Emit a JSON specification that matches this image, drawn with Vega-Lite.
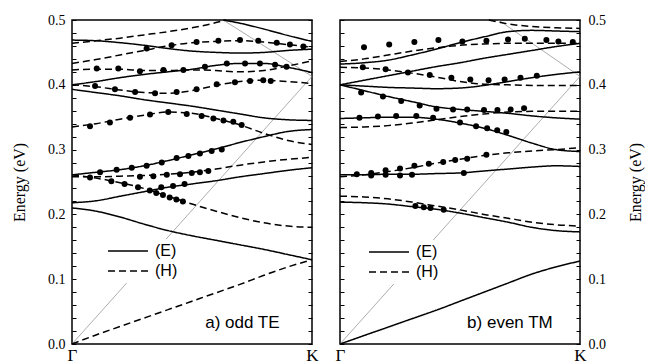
{
  "$schema": "https://vega.github.io/schema/vega-lite/v6.json",
  "background": "white",
  "padding": {"left": 10, "top": 12, "right": 0, "bottom": 0},
  "bounds": "flush",
  "spacing": 28,
  "config": {
    "view": {"stroke": "black", "strokeWidth": 1.5},
    "line": {"strokeCap": "butt"}
  },
  "datasets": {
    "lightA": [
      {"seg": "1", "x": 0, "y": 0}, {"seg": "1", "x": 1, "y": 0.413},
      {"seg": "2", "x": 0.63, "y": 0.5}, {"seg": "2", "x": 1, "y": 0.413}
    ],
    "lightB": [
      {"seg": "1", "x": 0, "y": 0}, {"seg": "1", "x": 1, "y": 0.413},
      {"seg": "2", "x": 0.66, "y": 0.5}, {"seg": "2", "x": 1, "y": 0.413}
    ],
    "labelA": [{"t": "a) odd TE"}],
    "labelB": [{"t": "b) even TM"}],
    "linesA": [
      {"band": "S1", "pol": "(E)", "x": 0, "y": 0.210}, {"band": "S1", "pol": "(E)", "x": 0.1, "y": 0.205}, {"band": "S1", "pol": "(E)", "x": 0.2, "y": 0.196}, {"band": "S1", "pol": "(E)", "x": 0.3, "y": 0.185}, {"band": "S1", "pol": "(E)", "x": 0.4, "y": 0.175}, {"band": "S1", "pol": "(E)", "x": 0.5, "y": 0.167}, {"band": "S1", "pol": "(E)", "x": 0.6, "y": 0.160}, {"band": "S1", "pol": "(E)", "x": 0.7, "y": 0.153}, {"band": "S1", "pol": "(E)", "x": 0.8, "y": 0.146}, {"band": "S1", "pol": "(E)", "x": 0.9, "y": 0.138}, {"band": "S1", "pol": "(E)", "x": 1, "y": 0.130},
      {"band": "S2", "pol": "(E)", "x": 0, "y": 0.218}, {"band": "S2", "pol": "(E)", "x": 0.1, "y": 0.221}, {"band": "S2", "pol": "(E)", "x": 0.2, "y": 0.228}, {"band": "S2", "pol": "(E)", "x": 0.3, "y": 0.235}, {"band": "S2", "pol": "(E)", "x": 0.4, "y": 0.242}, {"band": "S2", "pol": "(E)", "x": 0.5, "y": 0.247}, {"band": "S2", "pol": "(E)", "x": 0.6, "y": 0.252}, {"band": "S2", "pol": "(E)", "x": 0.7, "y": 0.258}, {"band": "S2", "pol": "(E)", "x": 0.8, "y": 0.263}, {"band": "S2", "pol": "(E)", "x": 0.9, "y": 0.268}, {"band": "S2", "pol": "(E)", "x": 1, "y": 0.272},
      {"band": "S3", "pol": "(E)", "x": 0, "y": 0.261}, {"band": "S3", "pol": "(E)", "x": 0.1, "y": 0.265}, {"band": "S3", "pol": "(E)", "x": 0.2, "y": 0.269}, {"band": "S3", "pol": "(E)", "x": 0.3, "y": 0.275}, {"band": "S3", "pol": "(E)", "x": 0.4, "y": 0.283}, {"band": "S3", "pol": "(E)", "x": 0.5, "y": 0.292}, {"band": "S3", "pol": "(E)", "x": 0.6, "y": 0.301}, {"band": "S3", "pol": "(E)", "x": 0.7, "y": 0.311}, {"band": "S3", "pol": "(E)", "x": 0.8, "y": 0.320}, {"band": "S3", "pol": "(E)", "x": 0.9, "y": 0.328}, {"band": "S3", "pol": "(E)", "x": 1, "y": 0.331},
      {"band": "S4", "pol": "(E)", "x": 0, "y": 0.393}, {"band": "S4", "pol": "(E)", "x": 0.1, "y": 0.388}, {"band": "S4", "pol": "(E)", "x": 0.2, "y": 0.383}, {"band": "S4", "pol": "(E)", "x": 0.3, "y": 0.377}, {"band": "S4", "pol": "(E)", "x": 0.4, "y": 0.372}, {"band": "S4", "pol": "(E)", "x": 0.5, "y": 0.367}, {"band": "S4", "pol": "(E)", "x": 0.6, "y": 0.361}, {"band": "S4", "pol": "(E)", "x": 0.7, "y": 0.355}, {"band": "S4", "pol": "(E)", "x": 0.8, "y": 0.349}, {"band": "S4", "pol": "(E)", "x": 0.9, "y": 0.346}, {"band": "S4", "pol": "(E)", "x": 1, "y": 0.345},
      {"band": "S5", "pol": "(E)", "x": 0, "y": 0.400}, {"band": "S5", "pol": "(E)", "x": 0.1, "y": 0.405}, {"band": "S5", "pol": "(E)", "x": 0.2, "y": 0.411}, {"band": "S5", "pol": "(E)", "x": 0.3, "y": 0.416}, {"band": "S5", "pol": "(E)", "x": 0.4, "y": 0.420}, {"band": "S5", "pol": "(E)", "x": 0.5, "y": 0.424}, {"band": "S5", "pol": "(E)", "x": 0.6, "y": 0.430}, {"band": "S5", "pol": "(E)", "x": 0.7, "y": 0.433}, {"band": "S5", "pol": "(E)", "x": 0.8, "y": 0.433}, {"band": "S5", "pol": "(E)", "x": 0.9, "y": 0.427}, {"band": "S5", "pol": "(E)", "x": 1, "y": 0.419},
      {"band": "S6", "pol": "(E)", "x": 0, "y": 0.469}, {"band": "S6", "pol": "(E)", "x": 0.1, "y": 0.468}, {"band": "S6", "pol": "(E)", "x": 0.2, "y": 0.465}, {"band": "S6", "pol": "(E)", "x": 0.3, "y": 0.461}, {"band": "S6", "pol": "(E)", "x": 0.4, "y": 0.456}, {"band": "S6", "pol": "(E)", "x": 0.5, "y": 0.452}, {"band": "S6", "pol": "(E)", "x": 0.6, "y": 0.450}, {"band": "S6", "pol": "(E)", "x": 0.7, "y": 0.449}, {"band": "S6", "pol": "(E)", "x": 0.8, "y": 0.450}, {"band": "S6", "pol": "(E)", "x": 0.9, "y": 0.453}, {"band": "S6", "pol": "(E)", "x": 1, "y": 0.455},
      {"band": "S7", "pol": "(E)", "x": 0.63, "y": 0.5}, {"band": "S7", "pol": "(E)", "x": 0.7, "y": 0.495}, {"band": "S7", "pol": "(E)", "x": 0.8, "y": 0.486}, {"band": "S7", "pol": "(E)", "x": 0.9, "y": 0.476}, {"band": "S7", "pol": "(E)", "x": 1, "y": 0.467},
      {"band": "D1", "pol": "(H)", "x": 0, "y": 0}, {"band": "D1", "pol": "(H)", "x": 0.1, "y": 0.014}, {"band": "D1", "pol": "(H)", "x": 0.2, "y": 0.027}, {"band": "D1", "pol": "(H)", "x": 0.3, "y": 0.040}, {"band": "D1", "pol": "(H)", "x": 0.4, "y": 0.053}, {"band": "D1", "pol": "(H)", "x": 0.5, "y": 0.066}, {"band": "D1", "pol": "(H)", "x": 0.6, "y": 0.079}, {"band": "D1", "pol": "(H)", "x": 0.7, "y": 0.092}, {"band": "D1", "pol": "(H)", "x": 0.8, "y": 0.106}, {"band": "D1", "pol": "(H)", "x": 0.9, "y": 0.119}, {"band": "D1", "pol": "(H)", "x": 1, "y": 0.130},
      {"band": "D2", "pol": "(H)", "x": 0, "y": 0.261}, {"band": "D2", "pol": "(H)", "x": 0.1, "y": 0.256}, {"band": "D2", "pol": "(H)", "x": 0.2, "y": 0.249}, {"band": "D2", "pol": "(H)", "x": 0.3, "y": 0.240}, {"band": "D2", "pol": "(H)", "x": 0.4, "y": 0.228}, {"band": "D2", "pol": "(H)", "x": 0.5, "y": 0.216}, {"band": "D2", "pol": "(H)", "x": 0.6, "y": 0.205}, {"band": "D2", "pol": "(H)", "x": 0.7, "y": 0.195}, {"band": "D2", "pol": "(H)", "x": 0.8, "y": 0.187}, {"band": "D2", "pol": "(H)", "x": 0.9, "y": 0.182}, {"band": "D2", "pol": "(H)", "x": 1, "y": 0.180},
      {"band": "D3", "pol": "(H)", "x": 0, "y": 0.258}, {"band": "D3", "pol": "(H)", "x": 0.1, "y": 0.258}, {"band": "D3", "pol": "(H)", "x": 0.2, "y": 0.259}, {"band": "D3", "pol": "(H)", "x": 0.3, "y": 0.260}, {"band": "D3", "pol": "(H)", "x": 0.4, "y": 0.262}, {"band": "D3", "pol": "(H)", "x": 0.5, "y": 0.265}, {"band": "D3", "pol": "(H)", "x": 0.6, "y": 0.270}, {"band": "D3", "pol": "(H)", "x": 0.7, "y": 0.276}, {"band": "D3", "pol": "(H)", "x": 0.8, "y": 0.281}, {"band": "D3", "pol": "(H)", "x": 0.9, "y": 0.285}, {"band": "D3", "pol": "(H)", "x": 1, "y": 0.288},
      {"band": "D4", "pol": "(H)", "x": 0, "y": 0.335}, {"band": "D4", "pol": "(H)", "x": 0.1, "y": 0.340}, {"band": "D4", "pol": "(H)", "x": 0.2, "y": 0.347}, {"band": "D4", "pol": "(H)", "x": 0.3, "y": 0.353}, {"band": "D4", "pol": "(H)", "x": 0.4, "y": 0.358}, {"band": "D4", "pol": "(H)", "x": 0.5, "y": 0.356}, {"band": "D4", "pol": "(H)", "x": 0.6, "y": 0.348}, {"band": "D4", "pol": "(H)", "x": 0.7, "y": 0.338}, {"band": "D4", "pol": "(H)", "x": 0.8, "y": 0.325}, {"band": "D4", "pol": "(H)", "x": 0.9, "y": 0.314}, {"band": "D4", "pol": "(H)", "x": 1, "y": 0.308},
      {"band": "D5", "pol": "(H)", "x": 0, "y": 0.400}, {"band": "D5", "pol": "(H)", "x": 0.1, "y": 0.397}, {"band": "D5", "pol": "(H)", "x": 0.2, "y": 0.392}, {"band": "D5", "pol": "(H)", "x": 0.3, "y": 0.388}, {"band": "D5", "pol": "(H)", "x": 0.4, "y": 0.387}, {"band": "D5", "pol": "(H)", "x": 0.5, "y": 0.391}, {"band": "D5", "pol": "(H)", "x": 0.6, "y": 0.399}, {"band": "D5", "pol": "(H)", "x": 0.7, "y": 0.405}, {"band": "D5", "pol": "(H)", "x": 0.8, "y": 0.407}, {"band": "D5", "pol": "(H)", "x": 0.9, "y": 0.405}, {"band": "D5", "pol": "(H)", "x": 1, "y": 0.402},
      {"band": "D6", "pol": "(H)", "x": 0, "y": 0.423}, {"band": "D6", "pol": "(H)", "x": 0.1, "y": 0.424}, {"band": "D6", "pol": "(H)", "x": 0.2, "y": 0.424}, {"band": "D6", "pol": "(H)", "x": 0.3, "y": 0.422}, {"band": "D6", "pol": "(H)", "x": 0.4, "y": 0.422}, {"band": "D6", "pol": "(H)", "x": 0.5, "y": 0.423}, {"band": "D6", "pol": "(H)", "x": 0.6, "y": 0.422}, {"band": "D6", "pol": "(H)", "x": 0.7, "y": 0.420}, {"band": "D6", "pol": "(H)", "x": 0.8, "y": 0.422}, {"band": "D6", "pol": "(H)", "x": 0.9, "y": 0.429}, {"band": "D6", "pol": "(H)", "x": 1, "y": 0.437},
      {"band": "D7", "pol": "(H)", "x": 0, "y": 0.433}, {"band": "D7", "pol": "(H)", "x": 0.1, "y": 0.439}, {"band": "D7", "pol": "(H)", "x": 0.2, "y": 0.446}, {"band": "D7", "pol": "(H)", "x": 0.3, "y": 0.453}, {"band": "D7", "pol": "(H)", "x": 0.4, "y": 0.460}, {"band": "D7", "pol": "(H)", "x": 0.5, "y": 0.465}, {"band": "D7", "pol": "(H)", "x": 0.6, "y": 0.467}, {"band": "D7", "pol": "(H)", "x": 0.7, "y": 0.468}, {"band": "D7", "pol": "(H)", "x": 0.8, "y": 0.466}, {"band": "D7", "pol": "(H)", "x": 0.9, "y": 0.462}, {"band": "D7", "pol": "(H)", "x": 1, "y": 0.458},
      {"band": "D8", "pol": "(H)", "x": 0, "y": 0.464}, {"band": "D8", "pol": "(H)", "x": 0.1, "y": 0.468}, {"band": "D8", "pol": "(H)", "x": 0.2, "y": 0.472}, {"band": "D8", "pol": "(H)", "x": 0.3, "y": 0.477}, {"band": "D8", "pol": "(H)", "x": 0.4, "y": 0.482}, {"band": "D8", "pol": "(H)", "x": 0.5, "y": 0.488}, {"band": "D8", "pol": "(H)", "x": 0.6, "y": 0.496}, {"band": "D8", "pol": "(H)", "x": 0.64, "y": 0.5}
    ],
    "dotsA": [
      {"x": 0.311, "y": 0.456}, {"x": 0.415, "y": 0.461}, {"x": 0.519, "y": 0.466}, {"x": 0.61, "y": 0.468}, {"x": 0.70, "y": 0.469}, {"x": 0.776, "y": 0.468}, {"x": 0.853, "y": 0.465}, {"x": 0.908, "y": 0.462}, {"x": 0.964, "y": 0.459},
      {"x": 0.103, "y": 0.425}, {"x": 0.193, "y": 0.425}, {"x": 0.283, "y": 0.421}, {"x": 0.381, "y": 0.423}, {"x": 0.464, "y": 0.423}, {"x": 0.554, "y": 0.428},
      {"x": 0.645, "y": 0.433}, {"x": 0.721, "y": 0.433}, {"x": 0.783, "y": 0.433}, {"x": 0.846, "y": 0.431}, {"x": 0.894, "y": 0.428},
      {"x": 0.096, "y": 0.398}, {"x": 0.179, "y": 0.393}, {"x": 0.263, "y": 0.389}, {"x": 0.346, "y": 0.387}, {"x": 0.436, "y": 0.389}, {"x": 0.519, "y": 0.393}, {"x": 0.603, "y": 0.401}, {"x": 0.679, "y": 0.404}, {"x": 0.742, "y": 0.406}, {"x": 0.797, "y": 0.407}, {"x": 0.828, "y": 0.406},
      {"x": 0.075, "y": 0.336}, {"x": 0.158, "y": 0.342}, {"x": 0.242, "y": 0.349}, {"x": 0.325, "y": 0.354}, {"x": 0.401, "y": 0.358}, {"x": 0.478, "y": 0.355}, {"x": 0.540, "y": 0.352}, {"x": 0.589, "y": 0.348}, {"x": 0.631, "y": 0.345}, {"x": 0.672, "y": 0.343}, {"x": 0.707, "y": 0.338},
      {"x": 0.117, "y": 0.265}, {"x": 0.186, "y": 0.269}, {"x": 0.249, "y": 0.272}, {"x": 0.311, "y": 0.275}, {"x": 0.374, "y": 0.280}, {"x": 0.436, "y": 0.287}, {"x": 0.485, "y": 0.290}, {"x": 0.533, "y": 0.294}, {"x": 0.582, "y": 0.298}, {"x": 0.624, "y": 0.300},
      {"x": 0.075, "y": 0.257}, {"x": 0.283, "y": 0.258}, {"x": 0.339, "y": 0.259}, {"x": 0.395, "y": 0.261}, {"x": 0.45, "y": 0.262}, {"x": 0.499, "y": 0.264}, {"x": 0.533, "y": 0.265}, {"x": 0.568, "y": 0.267},
      {"x": 0.164, "y": 0.251}, {"x": 0.219, "y": 0.247}, {"x": 0.275, "y": 0.242}, {"x": 0.324, "y": 0.237}, {"x": 0.351, "y": 0.233}, {"x": 0.379, "y": 0.230}, {"x": 0.407, "y": 0.226}, {"x": 0.435, "y": 0.223}, {"x": 0.462, "y": 0.220},
      {"x": 0.372, "y": 0.242}, {"x": 0.421, "y": 0.244}, {"x": 0.469, "y": 0.247}
    ],
    "linesB": [
      {"band": "S1", "pol": "(E)", "x": 0, "y": 0}, {"band": "S1", "pol": "(E)", "x": 0.1, "y": 0.013}, {"band": "S1", "pol": "(E)", "x": 0.2, "y": 0.026}, {"band": "S1", "pol": "(E)", "x": 0.3, "y": 0.039}, {"band": "S1", "pol": "(E)", "x": 0.4, "y": 0.052}, {"band": "S1", "pol": "(E)", "x": 0.5, "y": 0.066}, {"band": "S1", "pol": "(E)", "x": 0.6, "y": 0.080}, {"band": "S1", "pol": "(E)", "x": 0.7, "y": 0.094}, {"band": "S1", "pol": "(E)", "x": 0.8, "y": 0.108}, {"band": "S1", "pol": "(E)", "x": 0.9, "y": 0.119}, {"band": "S1", "pol": "(E)", "x": 1, "y": 0.128},
      {"band": "S2", "pol": "(E)", "x": 0, "y": 0.219}, {"band": "S2", "pol": "(E)", "x": 0.1, "y": 0.218}, {"band": "S2", "pol": "(E)", "x": 0.2, "y": 0.216}, {"band": "S2", "pol": "(E)", "x": 0.3, "y": 0.212}, {"band": "S2", "pol": "(E)", "x": 0.4, "y": 0.208}, {"band": "S2", "pol": "(E)", "x": 0.5, "y": 0.202}, {"band": "S2", "pol": "(E)", "x": 0.6, "y": 0.195}, {"band": "S2", "pol": "(E)", "x": 0.7, "y": 0.188}, {"band": "S2", "pol": "(E)", "x": 0.8, "y": 0.180}, {"band": "S2", "pol": "(E)", "x": 0.9, "y": 0.175}, {"band": "S2", "pol": "(E)", "x": 1, "y": 0.173},
      {"band": "S3", "pol": "(E)", "x": 0, "y": 0.261}, {"band": "S3", "pol": "(E)", "x": 0.1, "y": 0.261}, {"band": "S3", "pol": "(E)", "x": 0.2, "y": 0.262}, {"band": "S3", "pol": "(E)", "x": 0.3, "y": 0.262}, {"band": "S3", "pol": "(E)", "x": 0.4, "y": 0.263}, {"band": "S3", "pol": "(E)", "x": 0.5, "y": 0.264}, {"band": "S3", "pol": "(E)", "x": 0.6, "y": 0.267}, {"band": "S3", "pol": "(E)", "x": 0.7, "y": 0.270}, {"band": "S3", "pol": "(E)", "x": 0.8, "y": 0.273}, {"band": "S3", "pol": "(E)", "x": 0.9, "y": 0.275}, {"band": "S3", "pol": "(E)", "x": 1, "y": 0.274},
      {"band": "S4", "pol": "(E)", "x": 0, "y": 0.348}, {"band": "S4", "pol": "(E)", "x": 0.1, "y": 0.349}, {"band": "S4", "pol": "(E)", "x": 0.2, "y": 0.350}, {"band": "S4", "pol": "(E)", "x": 0.3, "y": 0.350}, {"band": "S4", "pol": "(E)", "x": 0.4, "y": 0.347}, {"band": "S4", "pol": "(E)", "x": 0.5, "y": 0.341}, {"band": "S4", "pol": "(E)", "x": 0.6, "y": 0.333}, {"band": "S4", "pol": "(E)", "x": 0.7, "y": 0.322}, {"band": "S4", "pol": "(E)", "x": 0.8, "y": 0.310}, {"band": "S4", "pol": "(E)", "x": 0.9, "y": 0.300}, {"band": "S4", "pol": "(E)", "x": 1, "y": 0.297},
      {"band": "S5", "pol": "(E)", "x": 0, "y": 0.400}, {"band": "S5", "pol": "(E)", "x": 0.1, "y": 0.391}, {"band": "S5", "pol": "(E)", "x": 0.2, "y": 0.382}, {"band": "S5", "pol": "(E)", "x": 0.3, "y": 0.374}, {"band": "S5", "pol": "(E)", "x": 0.4, "y": 0.366}, {"band": "S5", "pol": "(E)", "x": 0.5, "y": 0.362}, {"band": "S5", "pol": "(E)", "x": 0.6, "y": 0.359}, {"band": "S5", "pol": "(E)", "x": 0.7, "y": 0.356}, {"band": "S5", "pol": "(E)", "x": 0.8, "y": 0.352}, {"band": "S5", "pol": "(E)", "x": 0.9, "y": 0.349}, {"band": "S5", "pol": "(E)", "x": 1, "y": 0.347},
      {"band": "S6", "pol": "(E)", "x": 0, "y": 0.400}, {"band": "S6", "pol": "(E)", "x": 0.1, "y": 0.398}, {"band": "S6", "pol": "(E)", "x": 0.2, "y": 0.396}, {"band": "S6", "pol": "(E)", "x": 0.3, "y": 0.395}, {"band": "S6", "pol": "(E)", "x": 0.4, "y": 0.394}, {"band": "S6", "pol": "(E)", "x": 0.5, "y": 0.395}, {"band": "S6", "pol": "(E)", "x": 0.6, "y": 0.399}, {"band": "S6", "pol": "(E)", "x": 0.7, "y": 0.405}, {"band": "S6", "pol": "(E)", "x": 0.8, "y": 0.411}, {"band": "S6", "pol": "(E)", "x": 0.9, "y": 0.416}, {"band": "S6", "pol": "(E)", "x": 1, "y": 0.420},
      {"band": "S7", "pol": "(E)", "x": 0, "y": 0.400}, {"band": "S7", "pol": "(E)", "x": 0.1, "y": 0.407}, {"band": "S7", "pol": "(E)", "x": 0.2, "y": 0.414}, {"band": "S7", "pol": "(E)", "x": 0.3, "y": 0.421}, {"band": "S7", "pol": "(E)", "x": 0.4, "y": 0.428}, {"band": "S7", "pol": "(E)", "x": 0.5, "y": 0.434}, {"band": "S7", "pol": "(E)", "x": 0.6, "y": 0.441}, {"band": "S7", "pol": "(E)", "x": 0.7, "y": 0.447}, {"band": "S7", "pol": "(E)", "x": 0.8, "y": 0.453}, {"band": "S7", "pol": "(E)", "x": 0.9, "y": 0.459}, {"band": "S7", "pol": "(E)", "x": 1, "y": 0.464},
      {"band": "S8", "pol": "(E)", "x": 0, "y": 0.432}, {"band": "S8", "pol": "(E)", "x": 0.1, "y": 0.434}, {"band": "S8", "pol": "(E)", "x": 0.2, "y": 0.438}, {"band": "S8", "pol": "(E)", "x": 0.3, "y": 0.446}, {"band": "S8", "pol": "(E)", "x": 0.4, "y": 0.455}, {"band": "S8", "pol": "(E)", "x": 0.5, "y": 0.465}, {"band": "S8", "pol": "(E)", "x": 0.6, "y": 0.474}, {"band": "S8", "pol": "(E)", "x": 0.7, "y": 0.482}, {"band": "S8", "pol": "(E)", "x": 0.8, "y": 0.484}, {"band": "S8", "pol": "(E)", "x": 0.9, "y": 0.483}, {"band": "S8", "pol": "(E)", "x": 1, "y": 0.482},
      {"band": "D1", "pol": "(H)", "x": 0, "y": 0.228}, {"band": "D1", "pol": "(H)", "x": 0.1, "y": 0.227}, {"band": "D1", "pol": "(H)", "x": 0.2, "y": 0.224}, {"band": "D1", "pol": "(H)", "x": 0.3, "y": 0.219}, {"band": "D1", "pol": "(H)", "x": 0.4, "y": 0.213}, {"band": "D1", "pol": "(H)", "x": 0.5, "y": 0.207}, {"band": "D1", "pol": "(H)", "x": 0.6, "y": 0.200}, {"band": "D1", "pol": "(H)", "x": 0.7, "y": 0.194}, {"band": "D1", "pol": "(H)", "x": 0.8, "y": 0.188}, {"band": "D1", "pol": "(H)", "x": 0.9, "y": 0.184}, {"band": "D1", "pol": "(H)", "x": 1, "y": 0.182},
      {"band": "D2", "pol": "(H)", "x": 0, "y": 0.258}, {"band": "D2", "pol": "(H)", "x": 0.1, "y": 0.261}, {"band": "D2", "pol": "(H)", "x": 0.2, "y": 0.266}, {"band": "D2", "pol": "(H)", "x": 0.3, "y": 0.272}, {"band": "D2", "pol": "(H)", "x": 0.4, "y": 0.279}, {"band": "D2", "pol": "(H)", "x": 0.5, "y": 0.285}, {"band": "D2", "pol": "(H)", "x": 0.6, "y": 0.291}, {"band": "D2", "pol": "(H)", "x": 0.7, "y": 0.295}, {"band": "D2", "pol": "(H)", "x": 0.8, "y": 0.298}, {"band": "D2", "pol": "(H)", "x": 0.9, "y": 0.300}, {"band": "D2", "pol": "(H)", "x": 1, "y": 0.303},
      {"band": "D3", "pol": "(H)", "x": 0, "y": 0.334}, {"band": "D3", "pol": "(H)", "x": 0.1, "y": 0.335}, {"band": "D3", "pol": "(H)", "x": 0.2, "y": 0.337}, {"band": "D3", "pol": "(H)", "x": 0.3, "y": 0.341}, {"band": "D3", "pol": "(H)", "x": 0.4, "y": 0.346}, {"band": "D3", "pol": "(H)", "x": 0.5, "y": 0.351}, {"band": "D3", "pol": "(H)", "x": 0.6, "y": 0.355}, {"band": "D3", "pol": "(H)", "x": 0.7, "y": 0.358}, {"band": "D3", "pol": "(H)", "x": 0.8, "y": 0.359}, {"band": "D3", "pol": "(H)", "x": 0.9, "y": 0.359}, {"band": "D3", "pol": "(H)", "x": 1, "y": 0.359},
      {"band": "D4", "pol": "(H)", "x": 0, "y": 0.427}, {"band": "D4", "pol": "(H)", "x": 0.1, "y": 0.426}, {"band": "D4", "pol": "(H)", "x": 0.2, "y": 0.423}, {"band": "D4", "pol": "(H)", "x": 0.3, "y": 0.418}, {"band": "D4", "pol": "(H)", "x": 0.4, "y": 0.412}, {"band": "D4", "pol": "(H)", "x": 0.5, "y": 0.405}, {"band": "D4", "pol": "(H)", "x": 0.6, "y": 0.401}, {"band": "D4", "pol": "(H)", "x": 0.7, "y": 0.400}, {"band": "D4", "pol": "(H)", "x": 0.8, "y": 0.399}, {"band": "D4", "pol": "(H)", "x": 0.9, "y": 0.399}, {"band": "D4", "pol": "(H)", "x": 1, "y": 0.399},
      {"band": "D5", "pol": "(H)", "x": 0, "y": 0.436}, {"band": "D5", "pol": "(H)", "x": 0.1, "y": 0.440}, {"band": "D5", "pol": "(H)", "x": 0.2, "y": 0.446}, {"band": "D5", "pol": "(H)", "x": 0.3, "y": 0.452}, {"band": "D5", "pol": "(H)", "x": 0.4, "y": 0.457}, {"band": "D5", "pol": "(H)", "x": 0.5, "y": 0.461}, {"band": "D5", "pol": "(H)", "x": 0.6, "y": 0.463}, {"band": "D5", "pol": "(H)", "x": 0.7, "y": 0.464}, {"band": "D5", "pol": "(H)", "x": 0.8, "y": 0.464}, {"band": "D5", "pol": "(H)", "x": 0.9, "y": 0.464}, {"band": "D5", "pol": "(H)", "x": 1, "y": 0.464},
      {"band": "D6", "pol": "(H)", "x": 0.62, "y": 0.5}, {"band": "D6", "pol": "(H)", "x": 0.7, "y": 0.494}, {"band": "D6", "pol": "(H)", "x": 0.8, "y": 0.490}, {"band": "D6", "pol": "(H)", "x": 0.9, "y": 0.488}, {"band": "D6", "pol": "(H)", "x": 1, "y": 0.487}
    ],
    "dotsB": [
      {"x": 0.10, "y": 0.458}, {"x": 0.205, "y": 0.462}, {"x": 0.31, "y": 0.466}, {"x": 0.41, "y": 0.469}, {"x": 0.51, "y": 0.467}, {"x": 0.61, "y": 0.468}, {"x": 0.70, "y": 0.470}, {"x": 0.77, "y": 0.471}, {"x": 0.86, "y": 0.469}, {"x": 0.91, "y": 0.467}, {"x": 0.97, "y": 0.466},
      {"x": 0.095, "y": 0.427}, {"x": 0.19, "y": 0.424}, {"x": 0.283, "y": 0.419}, {"x": 0.374, "y": 0.415}, {"x": 0.464, "y": 0.411},
      {"x": 0.543, "y": 0.408}, {"x": 0.619, "y": 0.407}, {"x": 0.686, "y": 0.408}, {"x": 0.752, "y": 0.411}, {"x": 0.82, "y": 0.414},
      {"x": 0.088, "y": 0.388}, {"x": 0.179, "y": 0.382}, {"x": 0.255, "y": 0.375}, {"x": 0.332, "y": 0.368}, {"x": 0.402, "y": 0.363}, {"x": 0.471, "y": 0.362}, {"x": 0.53, "y": 0.362}, {"x": 0.6, "y": 0.361}, {"x": 0.656, "y": 0.361}, {"x": 0.711, "y": 0.362}, {"x": 0.767, "y": 0.364},
      {"x": 0.081, "y": 0.349}, {"x": 0.158, "y": 0.351}, {"x": 0.234, "y": 0.352}, {"x": 0.318, "y": 0.352}, {"x": 0.388, "y": 0.349}, {"x": 0.5, "y": 0.342}, {"x": 0.567, "y": 0.336}, {"x": 0.613, "y": 0.333}, {"x": 0.655, "y": 0.330}, {"x": 0.693, "y": 0.327},
      {"x": 0.13, "y": 0.264}, {"x": 0.19, "y": 0.268}, {"x": 0.25, "y": 0.271}, {"x": 0.31, "y": 0.275}, {"x": 0.37, "y": 0.278}, {"x": 0.43, "y": 0.281}, {"x": 0.48, "y": 0.284}, {"x": 0.53, "y": 0.286}, {"x": 0.61, "y": 0.292},
      {"x": 0.07, "y": 0.262}, {"x": 0.13, "y": 0.260}, {"x": 0.19, "y": 0.261}, {"x": 0.25, "y": 0.260}, {"x": 0.30, "y": 0.261}, {"x": 0.516, "y": 0.264},
      {"x": 0.314, "y": 0.213}, {"x": 0.349, "y": 0.211}, {"x": 0.377, "y": 0.210}, {"x": 0.432, "y": 0.207}
    ]
  },
  "resolve": {"legend": {"strokeDash": "independent"}},
  "hconcat": [
    {
      "width": 240,
      "height": 324,
      "resolve": {"scale": {"y": "independent"}},
      "layer": [
        {
          "data": {"name": "lightA"},
          "mark": {"type": "line", "color": "#8a8a8a", "strokeWidth": 0.7},
          "encoding": {
            "x": {"field": "x", "type": "quantitative", "scale": {"domain": [0, 1], "nice": false},
              "axis": {"values": [0, 1], "labelExpr": "datum.value == 0 ? 'Γ' : 'K'", "ticks": false, "domain": false, "grid": false, "title": null, "labelFont": "Liberation Serif", "labelFontSize": 17, "labelColor": "black", "labelPadding": 3, "labelFlush": false, "labelBound": false}},
            "y": {"field": "y", "type": "quantitative", "scale": {"domain": [0, 0.5], "nice": false, "zero": false},
              "axis": {"orient": "left", "values": [0, 0.02, 0.04, 0.06, 0.08, 0.1, 0.12, 0.14, 0.16, 0.18, 0.2, 0.22, 0.24, 0.26, 0.28, 0.3, 0.32, 0.34, 0.36, 0.38, 0.4, 0.42, 0.44, 0.46, 0.48, 0.5],
                "labelExpr": "abs(datum.value * 10 - round(datum.value * 10)) < 0.001 ? format(datum.value, '.1f') : ''",
                "tickSize": -4, "tickColor": "black", "tickWidth": 1, "domain": false, "grid": false, "labelOverlap": false, "labelBound": false, "labelFlush": false,
                "labelFont": "Liberation Serif", "labelFontSize": 14, "labelColor": "black", "labelPadding": 11,
                "title": "Energy (eV)", "titleFont": "Liberation Serif", "titleFontSize": 16, "titleFontWeight": "normal", "titleColor": "black", "titlePadding": 20}},
            "detail": {"field": "seg"}
          }
        },
        {
          "data": {"name": "linesA"},
          "mark": {"type": "line", "color": "black", "strokeWidth": 1.5, "interpolate": "monotone"},
          "encoding": {
            "x": {"field": "x", "type": "quantitative"},
            "y": {"field": "y", "type": "quantitative", "scale": {"domain": [0, 0.5], "nice": false, "zero": false},
              "axis": {"orient": "right", "values": [0, 0.02, 0.04, 0.06, 0.08, 0.1, 0.12, 0.14, 0.16, 0.18, 0.2, 0.22, 0.24, 0.26, 0.28, 0.3, 0.32, 0.34, 0.36, 0.38, 0.4, 0.42, 0.44, 0.46, 0.48, 0.5], "labels": false, "tickSize": -4, "tickColor": "black", "domain": false, "grid": false, "title": null}},
            "detail": {"field": "band"},
            "strokeDash": {"field": "pol", "type": "nominal",
              "scale": {"domain": ["(E)", "(H)"], "range": [[1, 0], [7, 4]]},
              "legend": {"orient": "none", "legendX": 31, "legendY": 219, "title": null, "symbolType": "stroke", "symbolSize": 1600, "symbolStrokeWidth": 1.4, "symbolStrokeColor": "black", "labelFont": "Liberation Sans", "labelFontSize": 16, "labelColor": "black", "labelOffset": 6, "fillColor": "white", "padding": 4, "clipHeight": 16, "rowPadding": 4}}
          }
        },
        {
          "data": {"name": "dotsA"},
          "mark": {"type": "circle", "color": "black", "size": 36, "opacity": 1},
          "encoding": {
            "x": {"field": "x", "type": "quantitative"},
            "y": {"field": "y", "type": "quantitative", "scale": {"domain": [0, 0.5], "nice": false, "zero": false}, "axis": null}
          }
        },
        {
          "data": {"name": "labelA"},
          "mark": {"type": "text", "font": "Liberation Sans", "fontSize": 17, "color": "black", "align": "center", "baseline": "alphabetic"},
          "encoding": {
            "x": {"datum": 0.71, "type": "quantitative"},
            "y": {"datum": 0.025, "type": "quantitative", "scale": {"domain": [0, 0.5], "nice": false, "zero": false}, "axis": null},
            "text": {"field": "t", "type": "nominal"}
          }
        }
      ]
    },
    {
      "width": 240,
      "height": 324,
      "resolve": {"scale": {"y": "independent"}},
      "layer": [
        {
          "data": {"name": "lightB"},
          "mark": {"type": "line", "color": "#8a8a8a", "strokeWidth": 0.7},
          "encoding": {
            "x": {"field": "x", "type": "quantitative", "scale": {"domain": [0, 1], "nice": false},
              "axis": {"values": [0, 1], "labelExpr": "datum.value == 0 ? 'Γ' : 'K'", "ticks": false, "domain": false, "grid": false, "title": null, "labelFont": "Liberation Serif", "labelFontSize": 17, "labelColor": "black", "labelPadding": 3, "labelFlush": false, "labelBound": false}},
            "y": {"field": "y", "type": "quantitative", "scale": {"domain": [0, 0.5], "nice": false, "zero": false},
              "axis": {"orient": "left", "values": [0, 0.02, 0.04, 0.06, 0.08, 0.1, 0.12, 0.14, 0.16, 0.18, 0.2, 0.22, 0.24, 0.26, 0.28, 0.3, 0.32, 0.34, 0.36, 0.38, 0.4, 0.42, 0.44, 0.46, 0.48, 0.5], "labels": false, "tickSize": -4, "tickColor": "black", "domain": false, "grid": false, "title": null}},
            "detail": {"field": "seg"}
          }
        },
        {
          "data": {"name": "linesB"},
          "mark": {"type": "line", "color": "black", "strokeWidth": 1.5, "interpolate": "monotone"},
          "encoding": {
            "x": {"field": "x", "type": "quantitative"},
            "y": {"field": "y", "type": "quantitative", "scale": {"domain": [0, 0.5], "nice": false, "zero": false},
              "axis": {"orient": "right", "values": [0, 0.02, 0.04, 0.06, 0.08, 0.1, 0.12, 0.14, 0.16, 0.18, 0.2, 0.22, 0.24, 0.26, 0.28, 0.3, 0.32, 0.34, 0.36, 0.38, 0.4, 0.42, 0.44, 0.46, 0.48, 0.5],
                "labelExpr": "abs(datum.value * 10 - round(datum.value * 10)) < 0.001 ? format(datum.value, '.1f') : ''",
                "tickSize": -4, "tickColor": "black", "tickWidth": 1, "domain": false, "grid": false, "labelOverlap": false, "labelBound": false, "labelFlush": false,
                "labelFont": "Liberation Serif", "labelFontSize": 14, "labelColor": "black", "labelPadding": 12,
                "title": "Energy (eV)", "titleFont": "Liberation Serif", "titleFontSize": 16, "titleFontWeight": "normal", "titleColor": "black", "titlePadding": 38, "titleAngle": 270}},
            "detail": {"field": "band"},
            "strokeDash": {"field": "pol", "type": "nominal",
              "scale": {"domain": ["(E)", "(H)"], "range": [[1, 0], [7, 4]]},
              "legend": {"orient": "none", "legendX": 24, "legendY": 220, "title": null, "symbolType": "stroke", "symbolSize": 1600, "symbolStrokeWidth": 1.4, "symbolStrokeColor": "black", "labelFont": "Liberation Sans", "labelFontSize": 16, "labelColor": "black", "labelOffset": 6, "fillColor": "white", "padding": 4, "clipHeight": 16, "rowPadding": 4}}
          }
        },
        {
          "data": {"name": "dotsB"},
          "mark": {"type": "circle", "color": "black", "size": 36, "opacity": 1},
          "encoding": {
            "x": {"field": "x", "type": "quantitative"},
            "y": {"field": "y", "type": "quantitative", "scale": {"domain": [0, 0.5], "nice": false, "zero": false}, "axis": null}
          }
        },
        {
          "data": {"name": "labelB"},
          "mark": {"type": "text", "font": "Liberation Sans", "fontSize": 17, "color": "black", "align": "center", "baseline": "alphabetic"},
          "encoding": {
            "x": {"datum": 0.708, "type": "quantitative"},
            "y": {"datum": 0.025, "type": "quantitative", "scale": {"domain": [0, 0.5], "nice": false, "zero": false}, "axis": null},
            "text": {"field": "t", "type": "nominal"}
          }
        }
      ]
    }
  ]
}
